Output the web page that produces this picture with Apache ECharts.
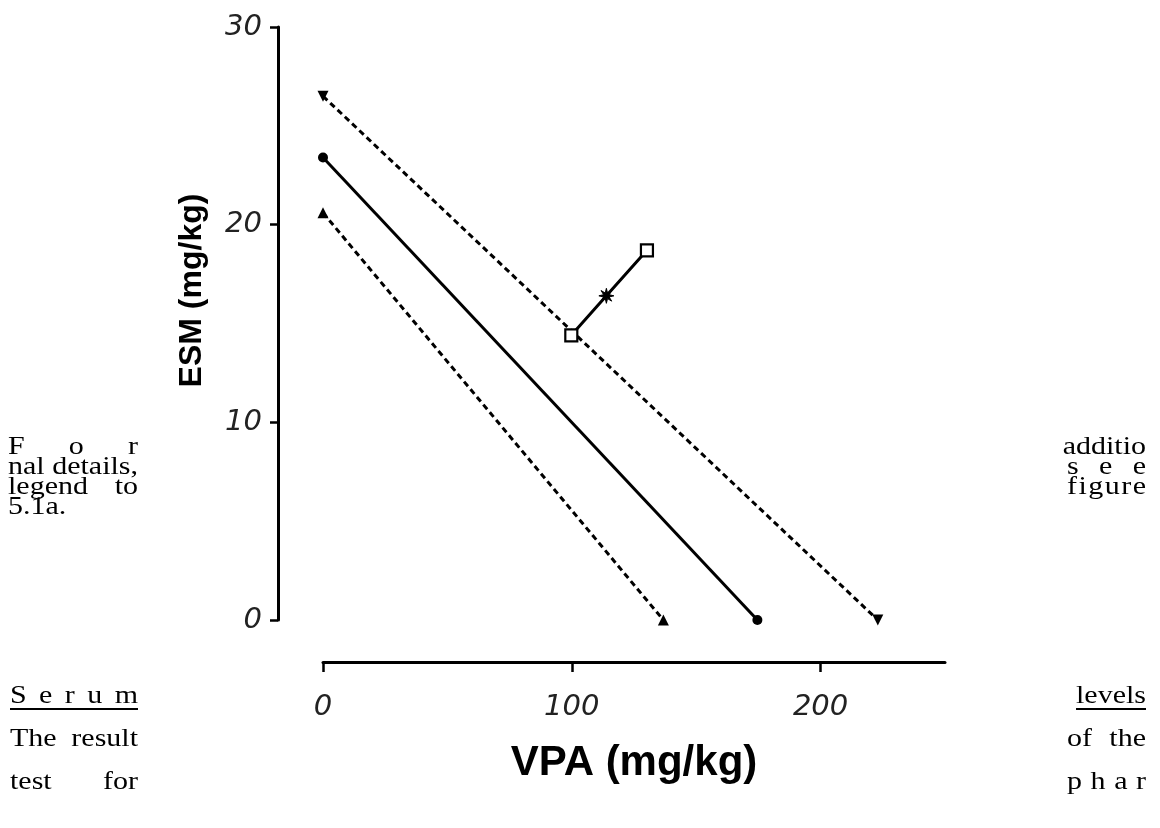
<!DOCTYPE html>
<html><head><meta charset="utf-8">
<script src="https://cdn.jsdelivr.net/npm/echarts@6/dist/echarts.min.js"></script>
<style>html,body{margin:0;padding:0;background:#fff}#c{width:1160px;height:828px}</style>
</head><body><div id="c"></div>
<script>
// ---- data ----
const xTicks = [0, 100, 200];
const yTicks = [0, 10, 20, 30];
const upperCI = [[0, 26.5], [223, 0]];
const additive = [[0, 23.4], [174.6, 0]];
const lowerCI = [[0, 20.6], [136.8, 0]];
const experimental = [[99.8, 14.4], [113.9, 16.4], [130.2, 18.7]];
const expSymbols = ['rect', 'star', 'rect'];
const xName = 'VPA (mg/kg)';
const yName = 'ESM (mg/kg)';
const leftLines = [['F', 'o', 'r'], ['nal', 'details,'], ['legend', 'to'], ['5.1a.']];
const rightLines = [['additio'], ['s', 'e', 'e'], ['f', 'i', 'g', 'u', 'r', 'e']];
const bottomLeft = [['S', 'e', 'r', 'u', 'm'], ['The', 'result'], ['test', 'for']];
const bottomRight = [['levels'], ['of', 'the'], ['p', 'h', 'a', 'r']];

// ---- layout helpers ----
const BODY_FONT = '30px "Liberation Serif"';
const SQUASH = 0.82;
const cv = document.createElement('canvas').getContext('2d');
cv.font = BODY_FONT;
function txt(t, x, y) {
  return { type: 'text', x: x, y: y, scaleY: SQUASH, style: { text: t, font: BODY_FONT, fill: '#000', verticalAlign: 'middle', align: 'left' } };
}
function justify(tokens, x0, x1, cy, single) {
  if (tokens.length === 1) {
    const w = cv.measureText(tokens[0]).width;
    return [txt(tokens[0], single === 'right' ? x1 - w : x0, cy)];
  }
  const widths = tokens.map(t => cv.measureText(t).width);
  const total = widths.reduce((a, b) => a + b, 0);
  const gap = (x1 - x0 - total) / (tokens.length - 1);
  let x = x0;
  return tokens.map((t, i) => { const e = txt(t, x, cy); x += widths[i] + gap; return e; });
}
function underline(x0, x1, y) {
  return { type: 'line', shape: { x1: x0, y1: y, x2: x1, y2: y }, style: { stroke: '#000', lineWidth: 2 } };
}
const graphics = [];
const LX0 = 8, LX1 = 138, RX0 = 1067, RX1 = 1146;
const leftMid = [448, 468, 488, 508];
leftLines.forEach((t, i) => graphics.push(...justify(t, LX0, LX1, leftMid[i], i === 3 ? 'left' : 'right')));
rightLines.forEach((t, i) => graphics.push(...justify(t, RX0, RX1, leftMid[i], 'right')));
const botMid = [697, 740, 783];
bottomLeft.forEach((t, i) => graphics.push(...justify(t, LX0 + 2, LX1, botMid[i], 'left')));
bottomRight.forEach((t, i) => graphics.push(...justify(t, RX0, RX1, botMid[i], 'right')));
graphics.push(underline(LX0 + 2, LX1, botMid[0] + 12));
const lvW = cv.measureText(bottomRight[0][0]).width;
graphics.push(underline(RX1 - lvW, RX1, botMid[0] + 12));

// star (asterisk-like) marker path
let starPath = 'path://';
for (let k = 0; k < 16; k++) {
  const a = Math.PI * k / 8, r = k % 2 === 0 ? 10 : 4;
  starPath += (k === 0 ? 'M' : 'L') + (r * Math.sin(a)).toFixed(2) + ',' + (-r * Math.cos(a)).toFixed(2) + ' ';
}
starPath += 'Z';

function lineSeries(data, dash, symbol, size, rotate) {
  return {
    type: 'line', data: data, symbol: symbol, symbolSize: size, symbolRotate: rotate || 0,
    lineStyle: { color: '#000', width: 3, type: dash ? [6, 4] : 'solid' },
    itemStyle: { color: '#000' }, silent: true
  };
}
const expData = experimental.map((p, i) => expSymbols[i] === 'rect'
  ? { value: p, symbol: 'rect', symbolSize: 12, itemStyle: { color: '#fff', borderColor: '#000', borderWidth: 2.2 } }
  : { value: p, symbol: starPath, symbolSize: 15, itemStyle: { color: '#000', borderColor: '#000', borderWidth: 1 } });

const labelStyle = { fontFamily: '"DejaVu Sans"', fontStyle: 'italic', fontSize: 29, color: '#222' };

const chart = echarts.init(document.getElementById('c'), null, { renderer: 'canvas' });
chart.setOption({
  animation: false,
  backgroundColor: '#fff',
  grid: { left: 323, right: 215, top: 27, bottom: 208 },
  xAxis: {
    type: 'value', min: 0, max: 250, interval: 100, offset: 42,
    axisLine: { show: true, onZero: false, lineStyle: { color: '#000', width: 3 } },
    axisTick: { show: true, length: 10, customValues: xTicks, lineStyle: { color: '#000', width: 2.5 } },
    axisLabel: Object.assign({ customValues: xTicks, margin: 31 }, labelStyle),
    splitLine: { show: false },
    name: xName, nameLocation: 'middle', nameGap: 80,
    nameTextStyle: { fontFamily: '"Liberation Sans"', fontWeight: 'bold', fontSize: 42, color: '#000' }
  },
  yAxis: {
    type: 'value', min: 0, max: 30, interval: 10, offset: 45,
    axisLine: { show: true, onZero: false, lineStyle: { color: '#000', width: 3 } },
    axisTick: { show: true, length: 8, customValues: yTicks, lineStyle: { color: '#000', width: 2.5 } },
    axisLabel: Object.assign({ customValues: yTicks, margin: 16 }, labelStyle),
    splitLine: { show: false },
    name: yName, nameLocation: 'middle', nameRotate: 90, nameGap: 70,
    nameTextStyle: { fontFamily: '"Liberation Sans"', fontWeight: 'bold', fontSize: 32, color: '#000', padding: [0, 0, 0, 66] }
  },
  series: [
    lineSeries(upperCI, true, 'triangle', 11, 180),
    lineSeries(additive, false, 'circle', 10),
    lineSeries(lowerCI, true, 'triangle', 11),
    { type: 'line', data: expData, lineStyle: { color: '#000', width: 3 }, silent: true, z: 3 }
  ],
  graphic: graphics
});
</script>
</body></html>
